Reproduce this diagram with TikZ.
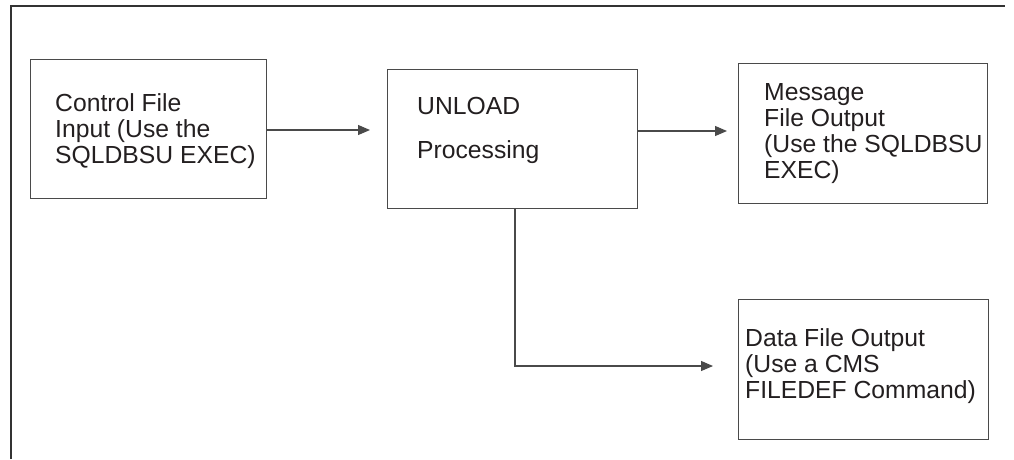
\documentclass[tikz,border=0pt]{standalone}
\usepackage{fontspec}
\setmainfont{Liberation Sans}
\usetikzlibrary{arrows.meta}
\definecolor{linegray}{HTML}{4A4A4A}
\definecolor{txtcol}{HTML}{231F20}
\begin{document}
\begin{tikzpicture}[x=1pt,y=-1pt,
  box/.style={draw=linegray, line width=1.2pt, rectangle, inner sep=0pt, anchor=north west},
  txt/.style={text=txtcol, inner sep=0pt, anchor=base west, align=left, font=\fontsize{24.7}{26}\selectfont},
  conn/.style={draw=linegray, line width=1.2pt, -{Triangle[length=12pt,width=10pt]}},
  frame/.style={draw=black!80, line width=1.8pt}]
\useasboundingbox (0,0) rectangle (1014,459);
% outer frame (top and left edges only)
\coordinate (f1) at (11,459);
\coordinate (f2) at (11,6);
\coordinate (f3) at (1005,6);
\draw[frame] (f1) -- (f2) -- (f3);
% boxes
\node[box, minimum width=236pt, minimum height=139pt] (b1) at (30,59) {};
\node[box, minimum width=250pt, minimum height=139pt] (b2) at (387,69) {};
\node[box, minimum width=249pt, minimum height=140pt] (b3) at (738,63) {};
\node[box, minimum width=250pt, minimum height=140pt] (b4) at (738,299) {};
% texts (anchored at the baseline of the last line)
\node[txt] (l1) at (55,163) {Control File\\Input (Use the\\SQLDBSU EXEC)};
\node[txt] (l2) at (417,158) {UNLOAD\\[18pt]Processing};
\node[txt] (l3) at (764,178) {Message\\File Output\\(Use the SQLDBSU\\EXEC)};
\node[txt] (l4) at (745,398) {Data File Output\\(Use a CMS\\FILEDEF Command)};
% connectors
\coordinate (a1) at (370,130);
\coordinate (a2) at (727,131);
\coordinate (a3) at (713,366);
\draw[conn] (b1.east |- a1) -- (a1);
\draw[conn] (b2.east |- a2) -- (a2);
\draw[conn] (b2.south -| 515,0) |- (a3);
\end{tikzpicture}
\end{document}
